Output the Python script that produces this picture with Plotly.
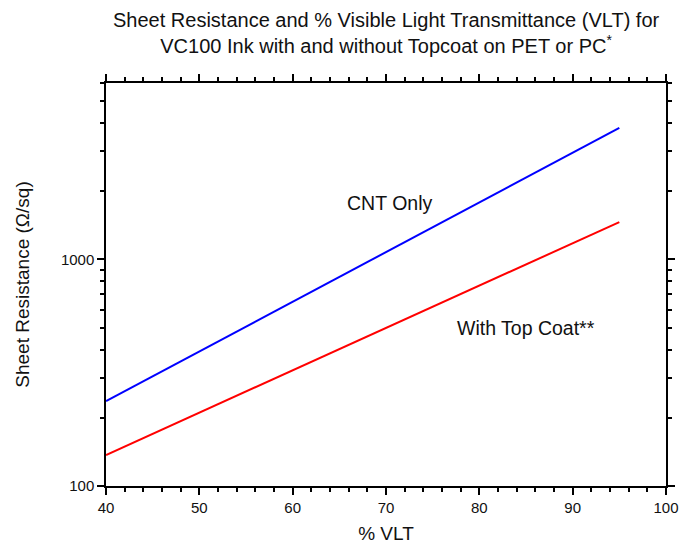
import plotly.graph_objects as go

# Data
vlt = [40, 95]
cnt_only = [237, 3800]
with_topcoat = [137, 1460]

x_major = [40, 50, 60, 70, 80, 90, 100]
x_minor = [v for v in range(40, 101, 2) if v % 10 != 0]
y_major = [100, 1000]
y_minor = [200, 300, 400, 500, 600, 700, 800, 900, 2000, 3000, 4000, 5000, 6000]

FONT = "Liberation Sans, Arial, sans-serif"
TXT = "#111111"

fig = go.Figure()
fig.add_trace(go.Scatter(x=vlt, y=cnt_only, mode="lines",
                         line=dict(color="#0000ff", width=2), name="CNT Only"))
fig.add_trace(go.Scatter(x=vlt, y=with_topcoat, mode="lines",
                         line=dict(color="#ff0000", width=2), name="With Top Coat**"))

fig.add_annotation(x=70.4, y=3.247, yref="y", text="CNT Only", showarrow=False,
                   font=dict(size=19.5, color=TXT, family=FONT))
fig.add_annotation(x=85.0, y=2.696, yref="y", text="With Top Coat**", showarrow=False,
                   font=dict(size=19.5, color=TXT, family=FONT))

# Title (two lines) placed above the plot
fig.add_annotation(
    x=0.5, xref="paper", y=(486 - 33) / 403, yref="paper",
    xanchor="center", yanchor="middle", showarrow=False,
    text="Sheet Resistance and % Visible Light Transmittance (VLT) for<br>VC100 Ink with and without Topcoat on PET or PC<sup>*</sup>",
    font=dict(size=20, family=FONT, color=TXT),
)

fig.update_layout(
    width=679, height=548,
    margin=dict(l=106, r=13, t=83, b=62, autoexpand=False),
    paper_bgcolor="white", plot_bgcolor="white",
    showlegend=False,
    font=dict(family=FONT, size=15, color=TXT),
)

fig.update_xaxes(
    range=[40, 100], tickmode="array", tickvals=x_major,
    ticks="outside", ticklen=7, tickwidth=1.5, tickcolor="black",
    showline=True, linecolor="black", linewidth=1.5, mirror="ticks",
    showgrid=False, zeroline=False, automargin=False,
    ticklabeloverflow="allow",
    minor=dict(tickmode="array", tickvals=x_minor, ticks="outside", ticklen=4,
               tickwidth=1.5, tickcolor="black", showgrid=False),
    title=dict(text="% VLT", font=dict(size=19, family=FONT, color=TXT), standoff=12),
    tickfont=dict(size=15, family=FONT, color=TXT),
)
fig.update_yaxes(
    type="log", range=[2, 3.77815], tickmode="array", tickvals=y_major,
    ticktext=["100", "1000"],
    ticks="outside", ticklen=7, tickwidth=1.5, tickcolor="black",
    showline=True, linecolor="black", linewidth=1.5, mirror="ticks",
    showgrid=False, zeroline=False, automargin=False,
    ticklabeloverflow="allow",
    minor=dict(tickmode="array", tickvals=y_minor, ticks="outside", ticklen=4,
               tickwidth=1.5, tickcolor="black", showgrid=False),
    title=dict(text="Sheet Resistance (Ω/sq)", font=dict(size=19, family=FONT, color=TXT), standoff=26),
    tickfont=dict(size=15, family=FONT, color=TXT),
)

# remove the default page margin so the figure sits exactly in the window
fig.write_html(
    "out.html",
    config={"displayModeBar": False},
    post_script="document.body.style.margin='0';document.body.style.overflow='hidden';",
)
